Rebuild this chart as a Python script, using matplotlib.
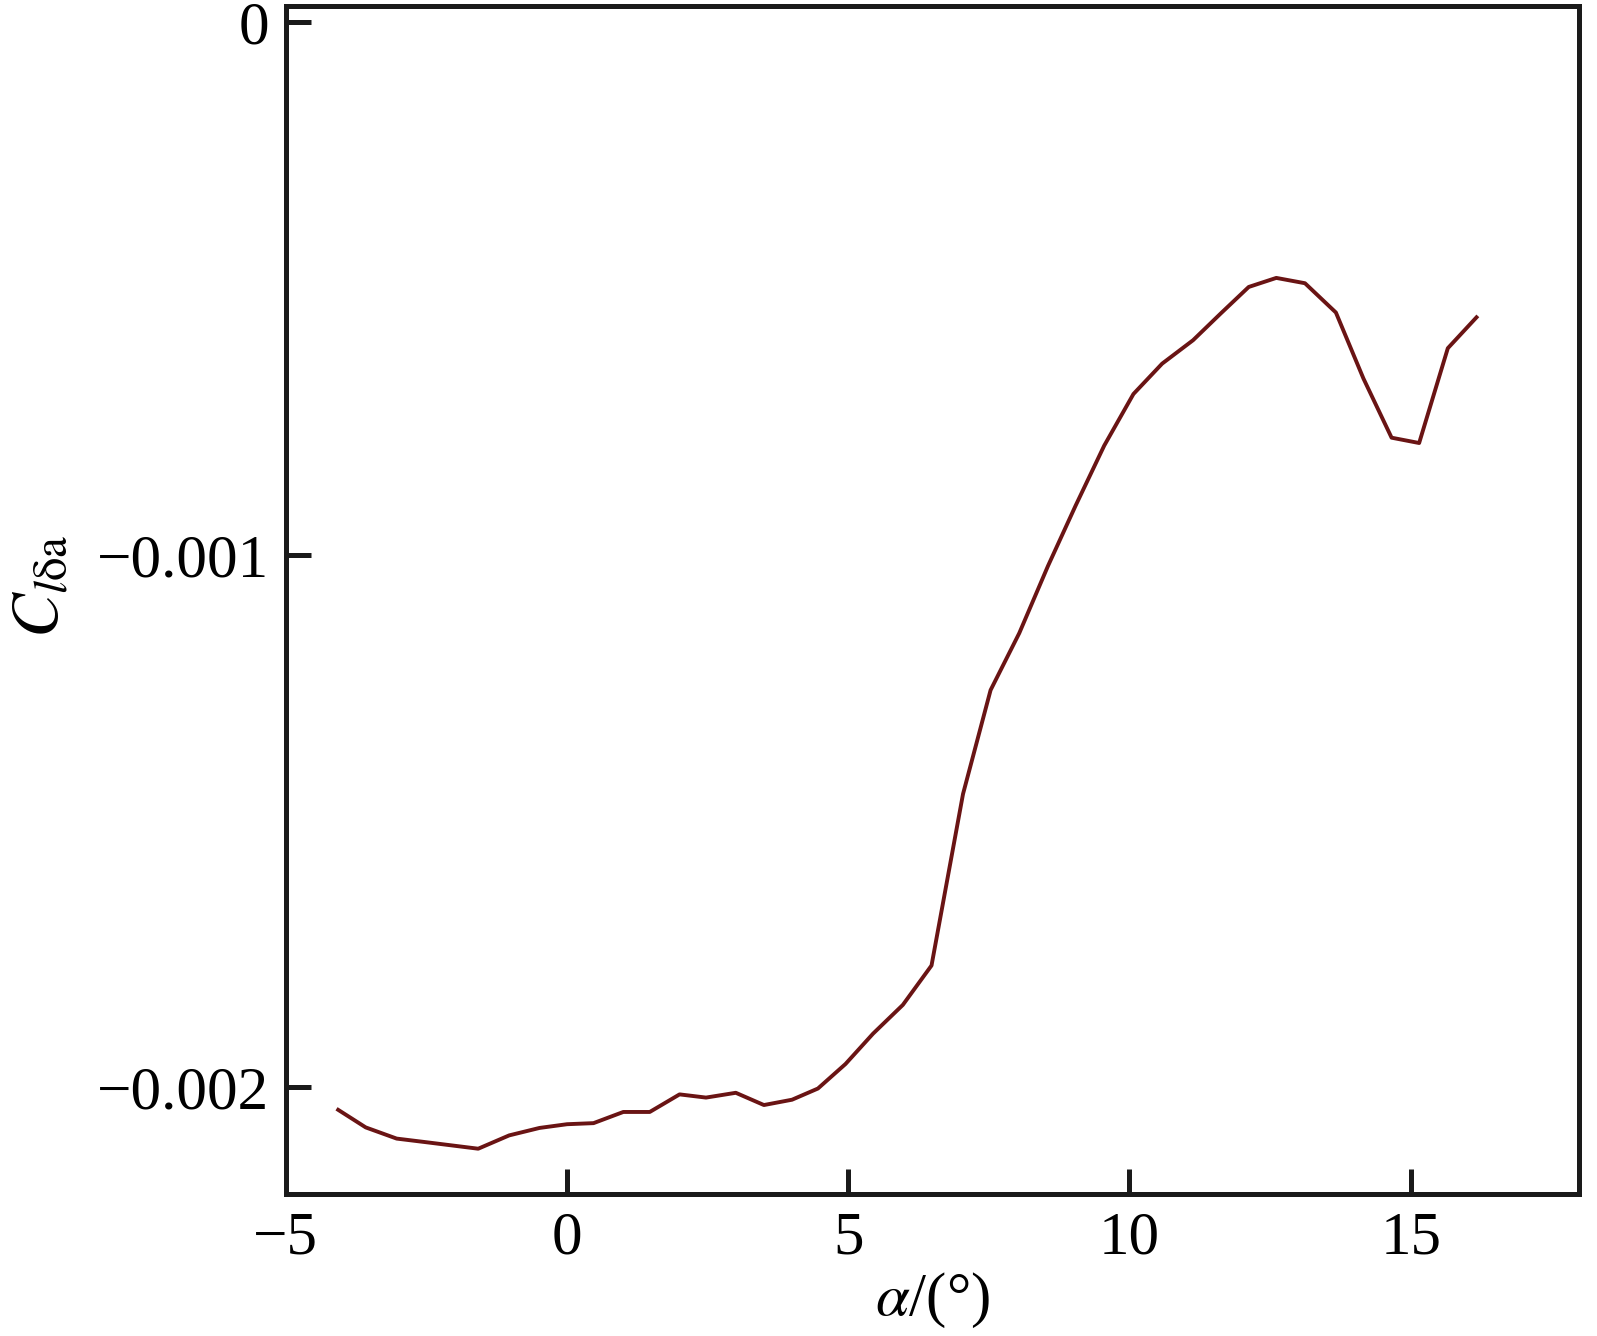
import numpy as np
import matplotlib
matplotlib.use("Agg")
import matplotlib.pyplot as plt
from matplotlib.ticker import FuncFormatter

# Data
alpha = [-4.07, -3.58, -3.03, -2.49, -1.58, -1.03, -0.49, 0.0, 0.47, 1.0,
         1.47, 2.0, 2.47, 3.0, 3.5, 4.0, 4.46, 4.95, 5.44, 5.97,
         6.48, 7.04, 7.53, 8.04, 8.55, 9.04, 9.55, 10.07, 10.58, 11.13,
         11.62, 12.12, 12.61, 13.12, 13.67, 14.16, 14.66, 15.15, 15.66, 16.17]
cl_da = [-0.002042, -0.002075, -0.002096, -0.002103, -0.002115, -0.002090, -0.002076,
         -0.002069, -0.002067, -0.002046, -0.002046, -0.002013, -0.002019, -0.002010,
         -0.002033, -0.002023, -0.002002, -0.001956, -0.001899, -0.001845, -0.001771,
         -0.001449, -0.001254, -0.001147, -0.001021, -0.000908, -0.000795, -0.000698,
         -0.000641, -0.000597, -0.000547, -0.000497, -0.000480, -0.000490, -0.000545,
         -0.000669, -0.000780, -0.000790, -0.000612, -0.000554]

x_ticks = [-5, 0, 5, 10, 15]
y_ticks = [0, -0.001, -0.002]

plt.rcParams['font.family'] = ['Liberation Serif', 'DejaVu Serif']
plt.rcParams['mathtext.fontset'] = 'stix'

fig = plt.figure(figsize=(15.97, 13.36), dpi=100)
ax = fig.add_axes([0.179, 0.1063, 0.810, 0.889])

ax.plot(alpha, cl_da, color='#6a1414', lw=2.8, solid_joinstyle='round')

ax.set_xlim(-5, 18)
ax.set_ylim(-0.0022, 0.00003)
ax.set_xticks(x_ticks)
ax.set_yticks(y_ticks)


def fmt_y(v, pos):
    if abs(v) < 1e-12:
        return '0'
    return ('%g' % v).replace('-', '\u2212')


def fmt_x(v, pos):
    return ('%d' % v).replace('-', '\u2212')


ax.yaxis.set_major_formatter(FuncFormatter(fmt_y))
ax.xaxis.set_major_formatter(FuncFormatter(fmt_x))

for s in ax.spines.values():
    s.set_linewidth(3.6)
    s.set_color('#1a1a1a')

ax.tick_params(direction='in', length=18, width=3.6, color='#1a1a1a',
               labelsize=44, pad=12)

ax.set_xlabel(r'$\alpha$/(°)', fontsize=44)
ax.xaxis.set_label_coords(0.5, -0.065)
ax.set_ylabel(r'$C_{l\mathrm{\delta a}}$', fontsize=48)
ax.yaxis.set_label_coords(-0.165, 0.512)

fig.savefig('out.png', dpi=100)
